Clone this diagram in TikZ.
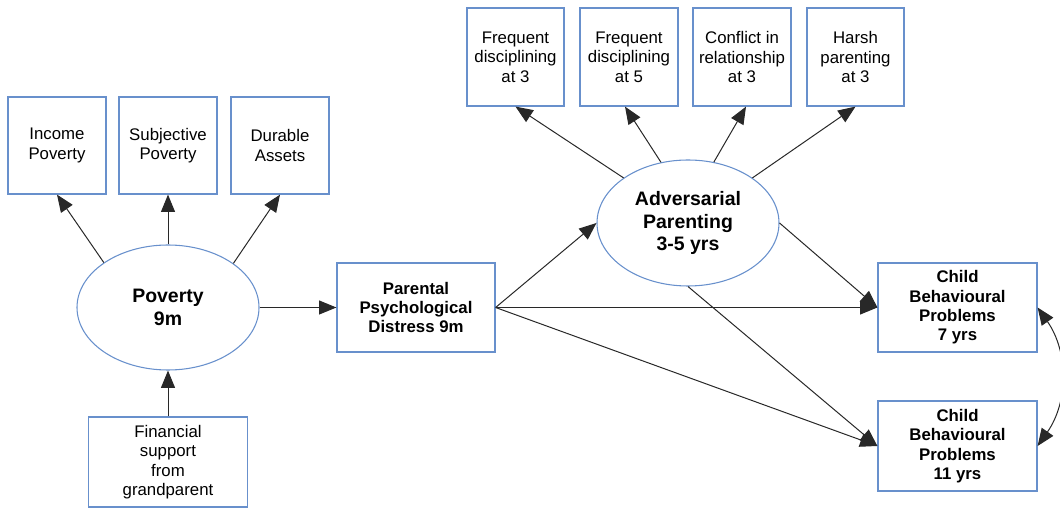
\documentclass[tikz,border=0pt]{standalone}
\usepackage{fontspec}
\setmainfont{Liberation Sans}
\usetikzlibrary{arrows.meta,shapes.geometric}
\definecolor{boxblue}{RGB}{104,144,204}
\definecolor{lineclr}{RGB}{40,40,40}
\tikzset{
  obs/.style={draw=boxblue, line width=0.9pt, rectangle, align=center, inner sep=0pt,
    font=\fontsize{12.6pt}{14.5pt}\selectfont},
  obsb/.style={obs, font=\fontsize{12.6pt}{14.5pt}\selectfont\bfseries},
  lat/.style={draw=boxblue, line width=0.8pt, ellipse, align=center, inner sep=0pt,
    font=\fontsize{14.6pt}{17.2pt}\selectfont\bfseries},
  tip/.tip={Triangle[length=13pt,width=10.5pt]},
  conn/.style={draw=lineclr, line width=0.75pt, -tip},
  dconn/.style={draw=lineclr, line width=0.75pt, tip-tip}
}
\begin{document}
\begin{tikzpicture}[x=0.75pt,y=-0.75pt]
\useasboundingbox (0,0) rectangle (1060,509);
\node[obs, minimum width=73.5pt, minimum height=72.75pt] (inc) at (57,145.5) {Income\\Poverty};
\node[obs, minimum width=73.5pt, minimum height=72.75pt] (subj) at (168,145.5) {Subjective\\Poverty};
\node[obs, minimum width=73.5pt, minimum height=72.75pt] (dur) at (280,145.5) {Durable\\Assets};
\node[lat, minimum width=136.5pt, minimum height=93.75pt] (pov) at (168,307.5) {Poverty\\9m};
\node[obs, minimum width=119.25pt, minimum height=67.5pt] (fin) at (168,462) {Financial\\support\\from\\grandparent};
\node[obsb, minimum width=118.5pt, minimum height=66.75pt] (par) at (416,307.5) {Parental\\Psychological\\Distress 9m};
\node[obs, minimum width=72.75pt, minimum height=73.5pt] (f3) at (515.5,57) {Frequent\\disciplining\\at 3};
\node[obs, minimum width=73.5pt, minimum height=73.5pt] (f5) at (629,57) {Frequent\\disciplining\\at 5};
\node[obs, minimum width=73.5pt, minimum height=73.5pt] (con) at (742,57) {Conflict in\\relationship\\at 3};
\node[obs, minimum width=72.75pt, minimum height=73.5pt] (har) at (855.5,57) {Harsh\\parenting\\at 3};
\node[lat, minimum width=136.5pt, minimum height=94.5pt] (adv) at (688,223) {Adversarial\\Parenting\\3-5 yrs};
\node[obsb, minimum width=119.25pt, minimum height=66.75pt] (c7) at (957.5,307.5) {Child\\Behavioural\\Problems\\7 yrs};
\node[obsb, minimum width=119.25pt, minimum height=67.5pt] (c11) at (957.5,446) {Child\\Behavioural\\Problems\\11 yrs};
% connectors
\draw[conn] (pov.145.6) -- (inc.south);
\draw[conn] (pov.north) -- (subj.south);
\draw[conn] (pov.34.4) -- (dur.south);
\draw[conn] (fin.north) -- (pov.south);
\draw[conn] (pov.east) -- (par.west);
\draw[conn] (par.east) -- (adv.west);
\draw[conn] (par.east) -- (c7.west);
\draw[conn] (par.east) -- (c11.west);
\draw[conn] (adv.east) -- (c7.west);
\draw[conn] (adv.south) -- (c11.west);
\draw[conn] (adv.145.7) -- (f3.south);
\draw[conn] (adv.114) -- ([xshift=-3pt]f5.south);
\draw[conn] (adv.67.7) -- ([xshift=3pt]con.south);
\draw[conn] (adv.35) -- (har.south);
\draw[dconn] (c7.east) to[bend left=35] (c11.east);
\end{tikzpicture}
\end{document}
